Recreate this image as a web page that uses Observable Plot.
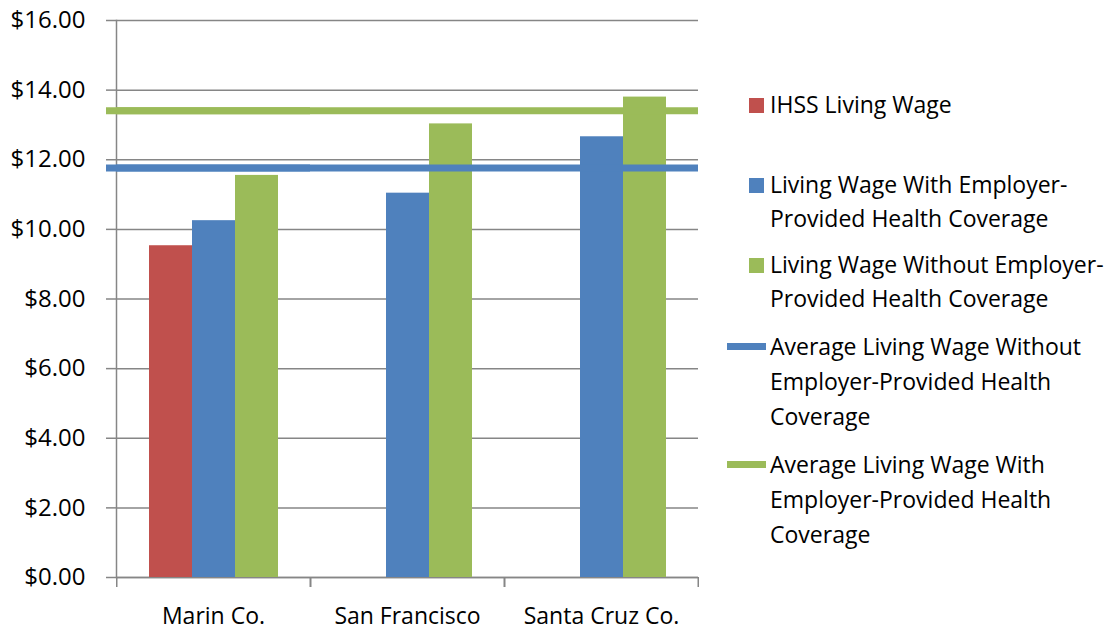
<!DOCTYPE html>
<html>
<head>
<meta charset="utf-8">
<script src="https://cdn.jsdelivr.net/npm/d3@7"></script>
<script src="https://cdn.jsdelivr.net/npm/@observablehq/plot@0.6"></script>
<style>
  html, body { margin: 0; padding: 0; background: #fff; }
  #wrap { position: relative; width: 1118px; height: 632px; font-family: "Open Sans", sans-serif; }
  #chart { position: absolute; left: 0; top: 0; }
  #legend { position: absolute; left: 718px; top: 0; }
</style>
</head>
<body>
<div id="wrap"><div id="chart"></div><svg id="legend" width="400" height="632"></svg></div>
<script>
const categories = ["Marin Co.", "San Francisco", "Santa Cruz Co."];
const seriesNames = [
  "IHSS Living Wage",
  "Living Wage With Employer-Provided Health Coverage",
  "Living Wage Without Employer-Provided Health Coverage"
];
const ihssWage = [9.53, null, null];
const wageWithCoverage = [10.25, 11.04, 12.66];
const wageWithoutCoverage = [11.55, 13.03, 13.80];
const avgWithoutCoverage = 11.76;
const avgWithCoverage = 13.41;
const yTicks = [0, 2, 4, 6, 8, 10, 12, 14, 16];
const barColors = ["#C0504D", "#4F81BD", "#9BBB59"];
const lineColors = ["#4F81BD", "#9BBB59"];
const legendLines = [
  {type: "box", color: barColors[0], lines: ["IHSS Living Wage"]},
  {type: "box", color: barColors[1], lines: ["Living Wage With Employer-", "Provided Health Coverage"]},
  {type: "box", color: barColors[2], lines: ["Living Wage Without Employer-", "Provided Health Coverage"]},
  {type: "line", color: lineColors[0], lines: ["Average Living Wage Without", "Employer-Provided Health", "Coverage"]},
  {type: "line", color: lineColors[1], lines: ["Average Living Wage With", "Employer-Provided Health", "Coverage"]}
];

const seriesValues = [ihssWage, wageWithCoverage, wageWithoutCoverage];
const rows = [];
categories.forEach((c, i) => {
  seriesNames.forEach((s, j) => {
    const v = seriesValues[j][i];
    if (v != null) rows.push({category: c, series: s, value: v});
  });
});

const gray = "#868686";
const xPadOuter = 0.75;

// Tick marks at the category group edges, below the baseline, derived from the scales
function edgeTicks(index, scales) {
  const g = d3.create("svg:g");
  const x = scales.x, y = scales.y;
  const bw = typeof x.bandwidth === "function" ? x.bandwidth() : x.bandwidth;
  const left = x(seriesNames[0]) - xPadOuter * bw;
  const right = x(seriesNames[seriesNames.length - 1]) + bw + xPadOuter * bw;
  const y0 = y(0);
  [left, right].forEach(px => {
    g.append("line").attr("x1", px).attr("x2", px).attr("y1", y0).attr("y2", y0 + 10)
      .attr("stroke", gray).attr("stroke-width", 1.5);
  });
  return g.node();
}

const chart = Plot.plot({
  width: 718,
  height: 632,
  marginLeft: 116,
  marginRight: 20,
  marginTop: 20,
  marginBottom: 55,
  style: {fontFamily: "Open Sans, sans-serif", fontSize: "23px", color: "black", background: "white"},
  fx: {domain: categories, padding: 0, label: null},
  x: {domain: seriesNames, paddingInner: 0, paddingOuter: xPadOuter, axis: null},
  y: {domain: [0, 16], label: null},
  color: {domain: seriesNames, range: barColors},
  marks: [
    Plot.gridY(yTicks, {stroke: gray, strokeOpacity: 1, strokeWidth: 1.5}),
    Plot.ruleY([0], {stroke: gray, strokeWidth: 1.5}),
    Plot.frame({anchor: "left", facetAnchor: "left", stroke: gray, strokeWidth: 1.5}),
    Plot.axisY(yTicks, {tickFormat: d => "$" + d.toFixed(2), tickSize: 10, tickPadding: 21, stroke: gray, strokeWidth: 1.5, fill: "black", fontSize: 24, label: null}),
    Plot.axisFx({anchor: "bottom", tickSize: 0, tickPadding: 30, label: null, fill: "black"}),
    edgeTicks,
    Plot.barY(rows, {fx: "category", x: "series", y: "value", fill: "series"}),
    Plot.ruleY([avgWithoutCoverage], {stroke: lineColors[0], strokeWidth: 7}),
    Plot.ruleY([avgWithCoverage], {stroke: lineColors[1], strokeWidth: 7}),
    Plot.ruleY([avgWithoutCoverage], {stroke: lineColors[0], strokeWidth: 7, facetAnchor: "left", insetLeft: -10}),
    Plot.ruleY([avgWithCoverage], {stroke: lineColors[1], strokeWidth: 7, facetAnchor: "left", insetLeft: -10})
  ]
});
document.getElementById("chart").appendChild(chart);

// Legend
const lg = d3.select("#legend");
const baselines = [[113], [193, 227], [273, 307], [355, 390, 425], [473, 508, 543]];
const lx = 52;
legendLines.forEach((e, i) => {
  const b = baselines[i];
  if (e.type === "box") {
    lg.append("rect").attr("x", 31).attr("y", b[0] - 15).attr("width", 15).attr("height", 15).attr("fill", e.color);
  } else {
    lg.append("rect").attr("x", 9).attr("y", b[0] - 12).attr("width", 39).attr("height", 7).attr("fill", e.color);
  }
  e.lines.forEach((t, k) => {
    lg.append("text").attr("x", lx).attr("y", b[k]).attr("font-family", "Open Sans, sans-serif")
      .attr("font-size", 23).attr("fill", "black").text(t);
  });
});
</script>
</body>
</html>
